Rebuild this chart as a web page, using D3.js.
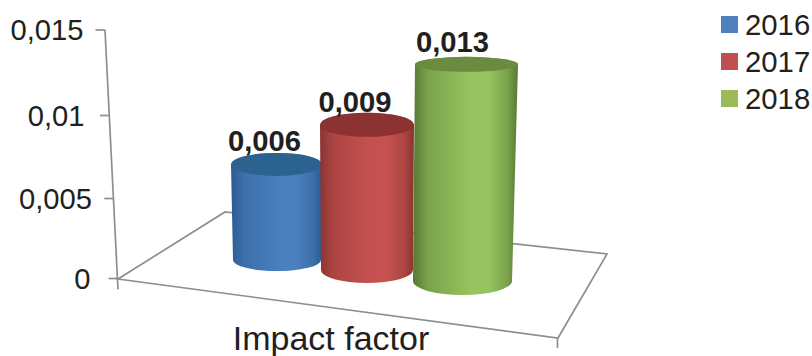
<!DOCTYPE html>
<html>
<head>
<meta charset="utf-8">
<script src="https://cdn.jsdelivr.net/npm/d3@7/dist/d3.min.js"></script>
<style>
html,body{margin:0;padding:0;background:#fff;overflow:hidden}
svg{display:block}
text{font-family:"Liberation Sans",Arial,sans-serif;fill:#231f20}
</style>
</head>
<body>
<svg id="chart" width="812" height="356"></svg>
<script>
// Chart values
const categoryLabel = "Impact factor";
const years = ["2016", "2017", "2018"];
const impactValues = [0.006, 0.009, 0.013];
const valueTicks = [0, 0.005, 0.01, 0.015];
const tickLabels = ["0", "0,005", "0,01", "0,015"];
const valueLabels = ["0,006", "0,009", "0,013"];

// Colours per year: swatch, shaded edge, lit centre, cap
const swatchColors = ["#4f81bd", "#c0504d", "#9bbb59"];
const edgeColors = ["#2a5c92", "#8a3432", "#587834"];
const litColors = ["#4a80c0", "#c65250", "#96c45e"];
const capColors = ["#2c6290", "#8c3232", "#6b8b40"];

// Perspective layout of the three cylinders, back to front
const cylinders = [
  {baseX: 277, baseY: 260, baseRx: 44, baseRy: 11, topX: 276.5, topRx: 45.5, topRy: 11.5, fullHeight: 239, labelDx: -12, labelDy: -13},
  {baseX: 367, baseY: 270, baseRx: 46, baseRy: 13, topX: 367, topRx: 47, topRy: 12, fullHeight: 242, labelDx: -12, labelDy: -13},
  {baseX: 462.5, baseY: 281, baseRx: 49.5, baseRy: 14, topX: 466.5, topRx: 51.5, topRy: 7.5, fullHeight: 250, labelDx: -14, labelDy: -12}
];

const svg = d3.select("#chart");
const defs = svg.append("defs");
const maxValue = 0.015;

// Slanted value axis, foreshortened a little towards the top
const axisY = d3.scaleLinear().domain(valueTicks).range([278.5, 198.5, 115.5, 30]);
const axisX = d3.scaleLinear().domain(valueTicks).range([118, 113.8, 109.5, 105]);
const labelEnd = [90.5, 92, 84.5, 83.5];

const wallColor = "#8c8e90";
const frame = svg.append("g").attr("fill", "none").attr("stroke", wallColor).attr("stroke-width", 1.7);

// Floor outline and the axis stems
const floorCorners = [[118, 279], [225, 212], [607, 254], [558, 338]];
frame.append("path").attr("d", d3.line()(floorCorners) + "Z").attr("stroke-linejoin", "miter");
frame.append("path").attr("d", d3.line()([[axisX(0), axisY(0) + 11], [axisX(maxValue), axisY(maxValue)]]));
frame.append("path").attr("d", d3.line()([[557.5, 338], [557.5, 348]]));

valueTicks.forEach((v, i) => {
  frame.append("line")
    .attr("x1", axisX(v) - 9.5).attr("x2", axisX(v))
    .attr("y1", axisY(v)).attr("y2", axisY(v));
  svg.append("text")
    .attr("x", labelEnd[i]).attr("y", axisY(v) + 10)
    .attr("text-anchor", "end").attr("font-size", 29.2)
    .text(tickLabels[i]);
});

// Horizontal shading gives each cylinder its rounded look
years.forEach((y, i) => {
  const grad = defs.append("linearGradient").attr("id", "shade" + y)
    .attr("x1", 0).attr("x2", 1).attr("y1", 0).attr("y2", 0);
  [[0, edgeColors[i]], [0.14, d3.interpolateRgb(edgeColors[i], litColors[i])(0.55)],
   [0.55, litColors[i]], [0.72, litColors[i]], [0.9, d3.interpolateRgb(edgeColors[i], litColors[i])(0.55)], [1, edgeColors[i]]]
    .forEach(s => grad.append("stop").attr("offset", s[0]).attr("stop-color", s[1]));
});

const cylGroup = svg.append("g");
impactValues.forEach((value, i) => {
  const c = cylinders[i];
  const height = d3.scaleLinear().domain([0, maxValue]).range([0, c.fullHeight]);
  const topY = c.baseY - height(value);
  const body =
    `M${c.topX - c.topRx},${topY}` +
    `L${c.baseX - c.baseRx},${c.baseY}` +
    `A${c.baseRx},${c.baseRy} 0 0 0 ${c.baseX + c.baseRx},${c.baseY}` +
    `L${c.topX + c.topRx},${topY}` +
    `A${c.topRx},${c.topRy} 0 0 0 ${c.topX - c.topRx},${topY}Z`;
  cylGroup.append("path").attr("d", body).attr("fill", `url(#shade${years[i]})`);
  cylGroup.append("ellipse")
    .attr("cx", c.topX).attr("cy", topY)
    .attr("rx", c.topRx).attr("ry", c.topRy)
    .attr("fill", capColors[i]);
  svg.append("text")
    .attr("x", c.topX + c.labelDx).attr("y", topY + c.labelDy)
    .attr("text-anchor", "middle").attr("font-size", 29.2).attr("font-weight", "bold")
    .text(valueLabels[i]);
});

// Category name below the floor
svg.append("text")
  .attr("x", 331).attr("y", 350)
  .attr("text-anchor", "middle").attr("font-size", 34)
  .text(categoryLabel);

// Legend
const legendY = d3.scalePoint().domain(years).range([24.5, 98.5]);
years.forEach((y, i) => {
  svg.append("rect")
    .attr("x", 721).attr("y", legendY(y) - 8.5)
    .attr("width", 17).attr("height", 17)
    .attr("fill", swatchColors[i]);
  svg.append("text")
    .attr("x", 745).attr("y", legendY(y) + 10.5)
    .attr("font-size", 29.3)
    .text(y);
});
</script>
</body>
</html>
